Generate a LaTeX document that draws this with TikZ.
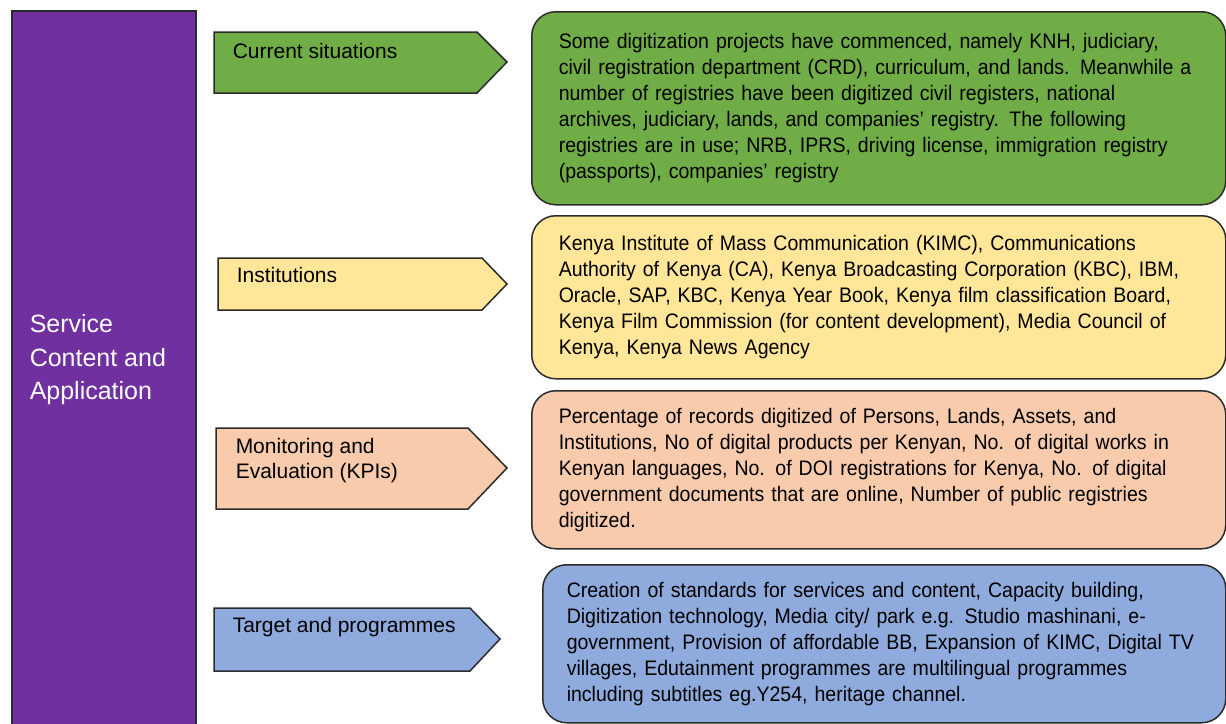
\documentclass[tikz,border=0pt]{standalone}
\usepackage{fontspec}
\setmainfont{Liberation Sans}
\newfontfamily\boxfont[FakeStretch=0.93]{Liberation Sans}
\usetikzlibrary{positioning}
\hyphenpenalty=10000
\tikzstyle{every picture}=[x=0.5pt,y=-0.5pt,line width=0.75pt]
\definecolor{svcpurple}{HTML}{7030A0}
\definecolor{curgreen}{HTML}{70AD47}
\definecolor{instyellow}{HTML}{FFE699}
\definecolor{kpipeach}{HTML}{F8CBAD}
\definecolor{progblue}{HTML}{8FAADC}
\definecolor{edgegrey}{HTML}{2B2B2B}
\tikzstyle{tab}=[draw=edgegrey,line join=miter]
\tikzstyle{tablabel}=[anchor=north west,inner sep=0pt,align=left,font=\fontsize{10.5}{12.5}\selectfont]
\tikzstyle{infobox}=[draw=edgegrey,rounded corners=12pt,anchor=north west,inner xsep=13.5pt,inner ysep=0pt,
    text width=320pt,align=left,font=\boxfont\fontsize{10.5}{13}\selectfont]

\begin{document}
\begin{tikzpicture}
    \useasboundingbox (0,0) rectangle (1226,723);

    % left panel
    \draw[tab,fill=svcpurple] (12,11) rectangle (196,740);
    \node[anchor=north west,inner sep=0pt,align=left,text=white,font=\fontsize{12.5}{16.75}\selectfont]
        (svc) at (29,314) {Service\\Content and\\Application};

    % tabs
    \draw[tab,fill=curgreen] (214,32) -- (477,32) -- (507,62) -- (477,93) -- (214,93) -- cycle;
    \node[tablabel] (cur) at (232,43) {Current situations};

    \draw[tab,fill=instyellow] (218,258) -- (482,258) -- (507,284) -- (482,310) -- (218,310) -- cycle;
    \node[tablabel] (inst) at (236,267) {Institutions};

    \draw[tab,fill=kpipeach] (216,428) -- (468,428) -- (507,468) -- (468,509) -- (216,509) -- cycle;
    \node[tablabel] (kpi) at (235,438) {Monitoring and\\Evaluation (KPIs)};

    \draw[tab,fill=progblue] (214,608) -- (470,608) -- (500,639) -- (470,671) -- (214,671) -- cycle;
    \node[tablabel] (prog) at (232,617) {Target and programmes};

    % detail boxes
    \node[infobox,fill=curgreen,minimum height=96.5pt] (curtext) at (531,11)
        {Some digitization projects have commenced, namely KNH, judiciary,\\
         civil registration department (CRD), curriculum, and lands. Meanwhile a\\
         number of registries have been digitized civil registers, national\\
         archives, judiciary, lands, and companies’ registry. The following\\
         registries are in use; NRB, IPRS, driving license, immigration registry\\
         (passports), companies’ registry};

    \node[infobox,fill=instyellow,minimum height=81.5pt] (insttext) at (531,215)
        {Kenya Institute of Mass Communication (KIMC), Communications\\
         Authority of Kenya (CA), Kenya Broadcasting Corporation (KBC), IBM,\\
         Oracle, SAP, KBC, Kenya Year Book, Kenya film classification Board,\\
         Kenya Film Commission (for content development), Media Council of\\
         Kenya, Kenya News Agency};

    \node[infobox,fill=kpipeach,minimum height=79pt] (kpitext) at (531,390)
        {Percentage of records digitized of Persons, Lands, Assets, and\\
         Institutions, No of digital products per Kenyan, No. of digital works in\\
         Kenyan languages, No. of DOI registrations for Kenya, No. of digital\\
         government documents that are online, Number of public registries\\
         digitized.};

    \node[infobox,fill=progblue,minimum height=79pt,inner xsep=12pt,text width=317.5pt] (progtext) at (542,564)
        {Creation of standards for services and content, Capacity building,\\
         Digitization technology, Media city/ park e.g. Studio mashinani, e-\\
         government, Provision of affordable BB, Expansion of KIMC, Digital TV\\
         villages, Edutainment programmes are multilingual programmes\\
         including subtitles eg.Y254, heritage channel.};
\end{tikzpicture}
\end{document}
